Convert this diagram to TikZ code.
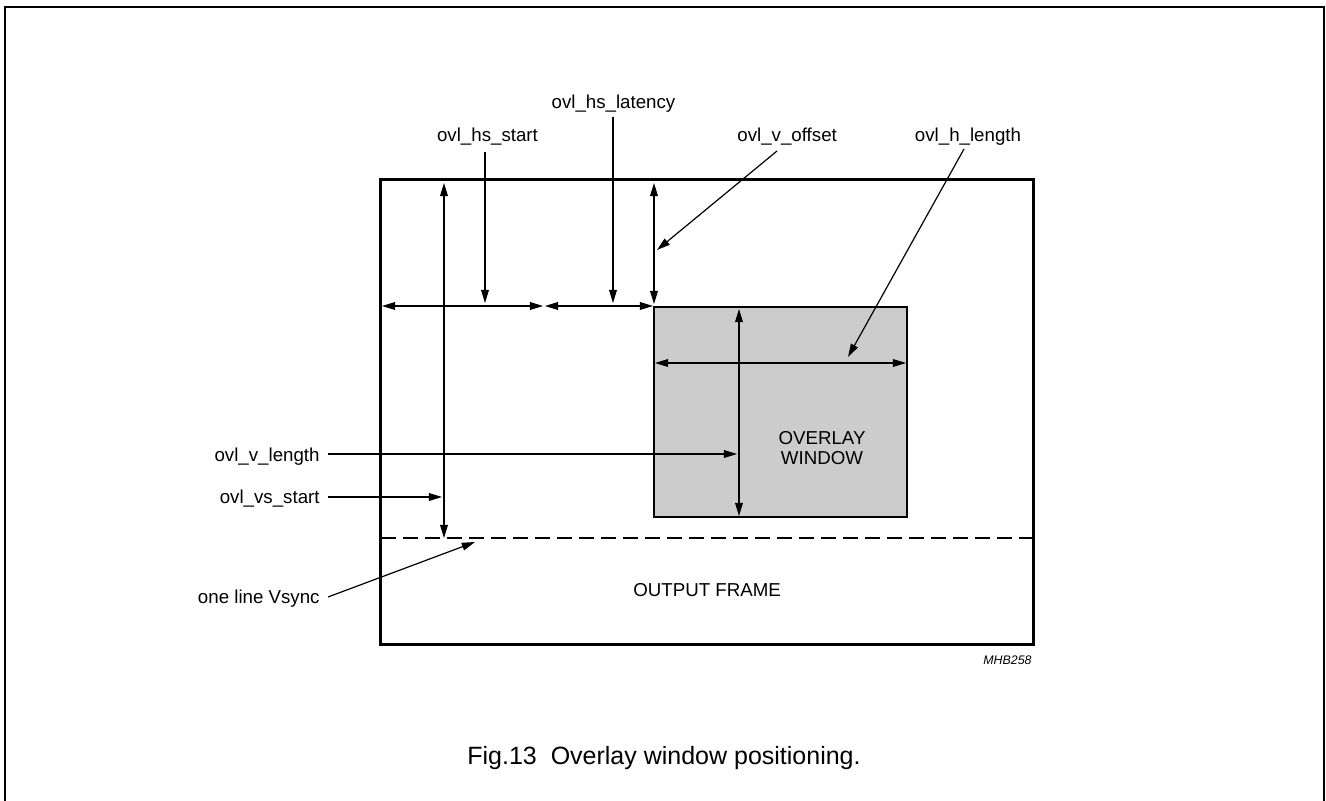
\documentclass[tikz,border=0pt]{standalone}
\usepackage{fontspec}
\setmainfont{Liberation Sans}
\usetikzlibrary{arrows.meta}
\begin{document}
\begin{tikzpicture}[x=0.5pt,y=-0.5pt,
  tip/.tip={Triangle[length=6.6pt,width=3.9pt]},
  dim/.style={line width=0.6pt,tip-tip},
  ptr/.style={line width=0.6pt,-tip},
  lbl/.style={inner sep=0pt,font=\fontsize{9.35}{11}\selectfont},
  thickframe/.style={line width=1.5pt},
  winbox/.style={line width=1pt,fill=black!20}]
\useasboundingbox (0,0) rectangle (1326,801);
% outer border
\draw[line width=1pt] (5,801) -- (5,7) -- (1324,7) -- (1324,801);
% overlay window
\draw[winbox] (654,307) rectangle (907,517);
% output frame
\draw[thickframe] (380,180) rectangle (1033,644);
% dashed Vsync line
\draw[line width=1pt,dash pattern=on 7.5pt off 3.5pt] (381,538) -- (1032,538);
% coordinates
\coordinate (vsT) at (444,183);
\coordinate (vsB) at (444,538);
\coordinate (h1L) at (382,306);
\coordinate (h1R) at (543,306);
\coordinate (h2L) at (545,306);
\coordinate (h2R) at (653,306);
\coordinate (voT) at (654,183);
\coordinate (voB) at (654,304);
\coordinate (wvT) at (739,309);
\coordinate (wvB) at (739,516);
\coordinate (whL) at (655,363);
\coordinate (whR) at (906,363);
% labels
\node[lbl,anchor=base] (hsstart) at (487.5,142) {ovl\_hs\_start};
\node[lbl,anchor=base] (hslat) at (613.5,109) {ovl\_hs\_latency};
\node[lbl,anchor=base west] (voff) at (737,142) {ovl\_v\_offset};
\node[lbl,anchor=base] (hlen) at (968,142) {ovl\_h\_length};
\node[lbl,anchor=base east] (vlen) at (320,461) {ovl\_v\_length};
\node[lbl,anchor=base east] (vsstart) at (320,503) {ovl\_vs\_start};
\node[lbl,anchor=base east] (vsync) at (320,603) {one line Vsync};
\node[lbl,anchor=base west] (outf) at (633,596) {OUTPUT FRAME};
\node[lbl,anchor=base,align=center] (ovw) at (822,465) {OVERLAY\\[-1pt]WINDOW};
\node[inner sep=0pt,anchor=base east,font=\fontsize{6.2}{7}\selectfont\itshape] (code) at (1032,664) {MHB258};
\node[inner sep=0pt,anchor=base west,font=\fontsize{12.5}{14}\selectfont] (cap) at (467,764) {Fig.13\ \ Overlay window positioning.};
% pointer end coordinates
\coordinate (hsstartS) at (485,152);
\coordinate (hsstartE) at (485,303);
\coordinate (hslatS) at (613,117);
\coordinate (hslatE) at (613,303);
\coordinate (voffS) at (777,151);
\coordinate (voffE) at (657,250);
\coordinate (hlenS) at (964,149);
\coordinate (hlenE) at (848,357);
\coordinate (vlenS) at (328,454);
\coordinate (vlenE) at (737,454);
\coordinate (vsstartS) at (328,497);
\coordinate (vsstartE) at (442,497);
\coordinate (vsyncS) at (328,597);
\coordinate (vsyncE) at (475,542);
% dimension arrows
\draw[dim] (vsT) -- (vsB);
\draw[dim] (h1L) -- (h1R);
\draw[dim] (h2L) -- (h2R);
\draw[dim] (voT) -- (voB);
\draw[dim] (wvT) -- (wvB);
\draw[dim] (whL) -- (whR);
% pointer arrows
\draw[ptr] (hsstartS) -- (hsstartE);
\draw[ptr] (hslatS) -- (hslatE);
\draw[ptr] (voffS) -- (voffE);
\draw[ptr] (hlenS) -- (hlenE);
\draw[ptr] (vlenS) -- (vlenE);
\draw[ptr] (vsstartS) -- (vsstartE);
\draw[ptr] (vsyncS) -- (vsyncE);
\end{tikzpicture}
\end{document}
